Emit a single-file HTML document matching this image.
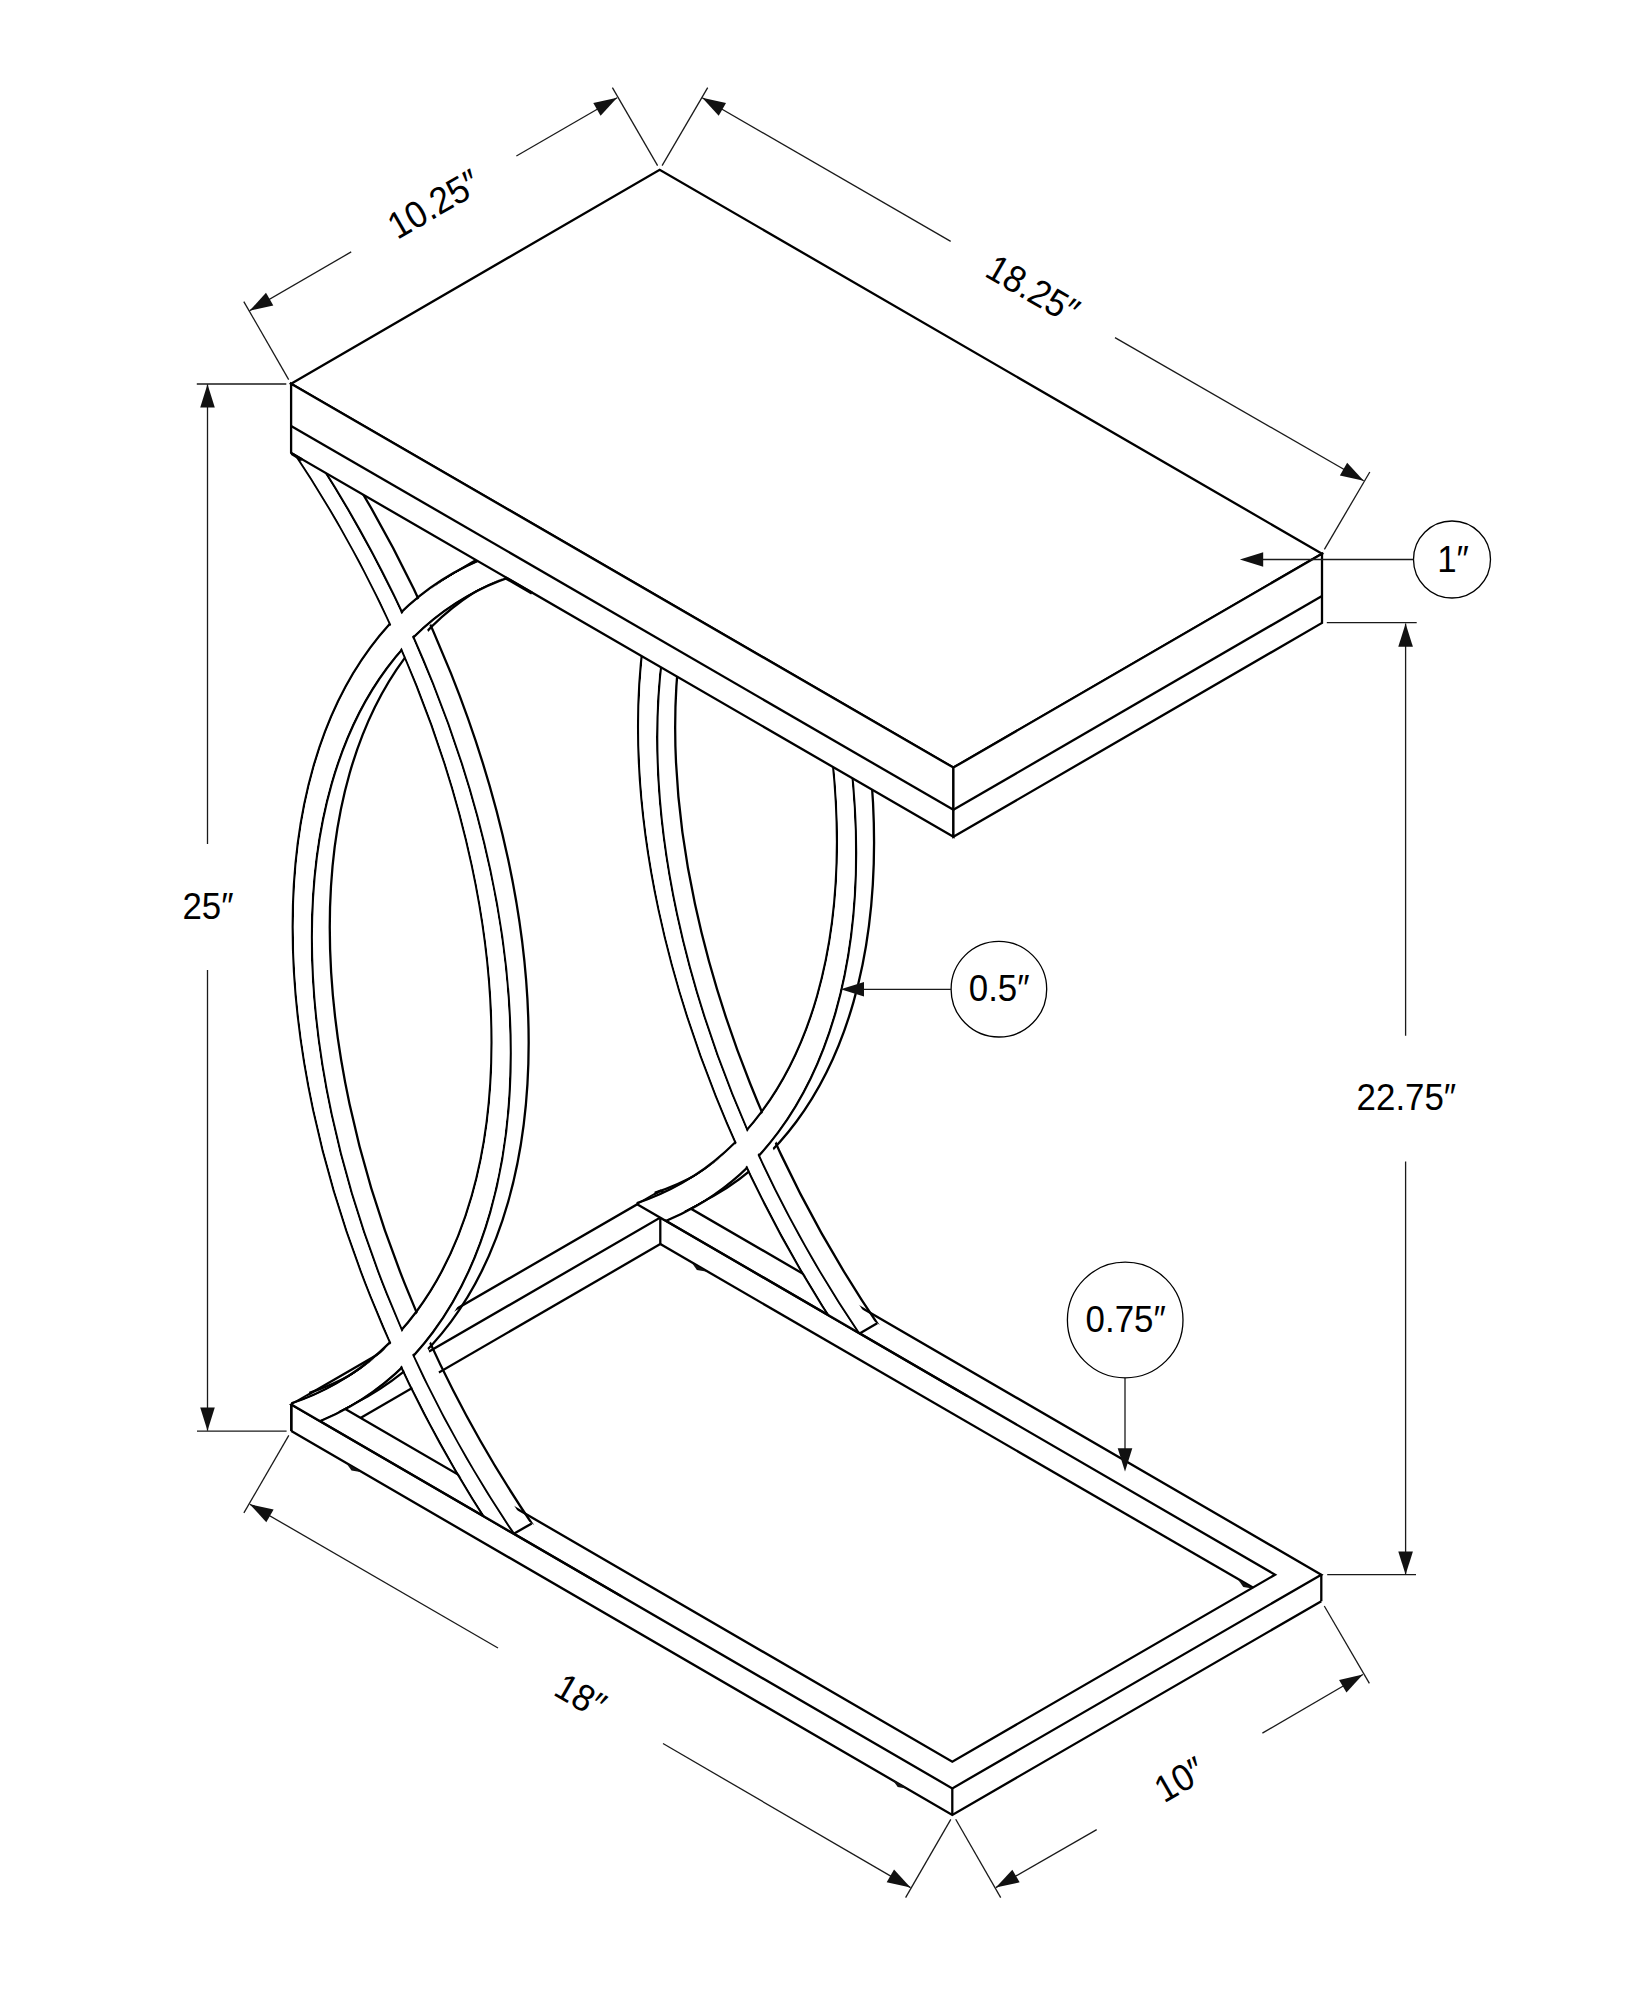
<!DOCTYPE html><html><head><meta charset="utf-8"><style>html,body{margin:0;padding:0;background:#fff}svg{display:block}</style></head><body>
<svg width="1647" height="2000" viewBox="0 0 1647 2000">
<style>line,path,circle,polygon{fill:none;stroke:#000;stroke-linecap:butt;stroke-linejoin:miter}.ah{fill:#111;stroke:none}.d{stroke:#1a1a1a}.wf{fill:#fff}.e{stroke-width:2.3}text{font-family:"Liberation Sans",sans-serif;fill:#000;stroke:none}</style>
<rect width="1647" height="2000" fill="#fff"/>
<defs>
<clipPath id="cf" clipPathUnits="userSpaceOnUse"><path d="M291.1,-500 L2000,-500 L2000,2396.73 L291.1,1404.48 Z"/></clipPath>
<g id="fe" clip-path="url(#cf)"><g transform="matrix(0.8653,0.5012,0,1,0,0)">
<path class="e" vector-effect="non-scaling-stroke" d="M282.3,241.53 A608.06,608.06 0 0 1 282.3,1272.85"/>
<path class="e" vector-effect="non-scaling-stroke" d="M293.97,222.85 A630.08,630.08 0 0 1 293.97,1291.53"/>
<path class="e" vector-effect="non-scaling-stroke" d="M646.12,1272.85 A608.06,608.06 0 0 1 646.12,241.53"/>
<path class="e" vector-effect="non-scaling-stroke" d="M634.45,1291.53 A630.08,630.08 0 0 1 634.45,222.85"/>
</g></g>
<g id="ff" clip-path="url(#cf)"><g transform="matrix(0.8653,0.5012,0,1,0,0)">
<path style="stroke:#fff;stroke-width:19.42" d="M288.14,232.19 A619.07,619.07 0 0 1 288.14,1282.19"/>
<path style="stroke:#fff;stroke-width:19.42" d="M640.28,1282.19 A619.07,619.07 0 0 1 640.28,232.19"/>
</g></g>
</defs>
<path d="M291.3,1404.6 L660.3,1190.9 L1321.3,1574.7 L952.3,1788.4 Z" stroke-width="2.3"/>
<path d="M291.3,1431.1 L952.3,1814.9 L1321.3,1601.2" stroke-width="2.3"/>
<line x1="291.3" y1="1404.6" x2="291.3" y2="1431.1" stroke-width="2.3"/>
<line x1="952.3" y1="1788.4" x2="952.3" y2="1814.9" stroke-width="2.3"/>
<line x1="1321.3" y1="1574.7" x2="1321.3" y2="1601.2" stroke-width="2.3"/>
<path d="M337.54,1404.6 L660.3,1217.6 L1275.06,1574.7 L952.3,1761.7 Z" stroke-width="2.3"/>
<line x1="660.3" y1="1217.6" x2="660.3" y2="1244.1" stroke-width="2.3"/>
<line x1="660.3" y1="1244.1" x2="360.47" y2="1417.91" stroke-width="2.3"/>
<line x1="660.3" y1="1244.1" x2="1252.82" y2="1587.58" stroke-width="2.3"/>
<g transform="translate(345.4,-200.1)">
<use href="#fe" transform="translate(18,-10.4)"/>
<use href="#ff" transform="translate(1.62,-0.94)"/>
<use href="#ff" transform="translate(3.24,-1.87)"/>
<use href="#ff" transform="translate(4.86,-2.81)"/>
<use href="#ff" transform="translate(6.48,-3.74)"/>
<use href="#ff" transform="translate(8.1,-4.68)"/>
<use href="#ff" transform="translate(9.72,-5.62)"/>
<use href="#ff" transform="translate(11.34,-6.55)"/>
<use href="#ff" transform="translate(12.96,-7.49)"/>
<use href="#ff" transform="translate(14.58,-8.42)"/>
<use href="#fe"/><use href="#ff"/>
</g>
<line x1="636.7" y1="1203.9" x2="967.68" y2="1396.15" stroke-width="2.3"/>
<g transform="translate(0,0)">
<use href="#fe" transform="translate(18,-10.4)"/>
<use href="#ff" transform="translate(1.62,-0.94)"/>
<use href="#ff" transform="translate(3.24,-1.87)"/>
<use href="#ff" transform="translate(4.86,-2.81)"/>
<use href="#ff" transform="translate(6.48,-3.74)"/>
<use href="#ff" transform="translate(8.1,-4.68)"/>
<use href="#ff" transform="translate(9.72,-5.62)"/>
<use href="#ff" transform="translate(11.34,-6.55)"/>
<use href="#ff" transform="translate(12.96,-7.49)"/>
<use href="#ff" transform="translate(14.58,-8.42)"/>
<use href="#fe"/><use href="#ff"/>
</g>
<line x1="291.3" y1="1404.6" x2="621.8" y2="1596.5" stroke-width="2.3"/>
<line x1="291.3" y1="1404.6" x2="291.3" y2="1431.1" stroke-width="2.3"/>
<line x1="513.79" y1="1533.79" x2="531.79" y2="1523.39" stroke-width="2.3"/>
<line x1="859.19" y1="1333.69" x2="877.19" y2="1323.29" stroke-width="2.3"/>
<path class="ah" d="M346.2,1463 L351.5,1470.5 L361.9,1472.3 Z"/>
<path class="ah" d="M691.6,1262.5 L696.9,1270 L707.3,1271.8 Z"/>
<path class="ah" d="M1238,1579.5 L1243.3,1587 L1253.7,1588.8 Z"/>
<path class="ah" d="M892.4,1779.5 L897.7,1787 L908.1,1788.8 Z"/>
<path class="wf" d="M291.1,383.7 L659.7,169.8 L1322,553.7 L953.4,767.6 Z" stroke-width="2.3"/>
<path class="wf" d="M291.1,383.7 L953.4,767.6 L953.4,836.8 L291.1,452.9 Z" stroke-width="2.3"/>
<path class="wf" d="M953.4,767.6 L1322,553.7 L1322,622.9 L953.4,836.8 Z" stroke-width="2.3"/>
<line x1="291.1" y1="425.9" x2="953.4" y2="809.8" stroke-width="2.3"/>
<line x1="953.4" y1="809.8" x2="1322" y2="595.9" stroke-width="2.3"/>
<line x1="505.5" y1="577.78" x2="532" y2="593.14" stroke-width="3.2"/>
<line x1="291.5" y1="453.5" x2="302" y2="459.82" stroke-width="3.2"/>
<line x1="657.6" y1="165.6" x2="612.4" y2="87.7" stroke-width="1.3" class="d"/>
<line x1="288.7" y1="379.6" x2="243.8" y2="301.6" stroke-width="1.3" class="d"/>
<line x1="249.5" y1="310.8" x2="351.2" y2="251.9" stroke-width="1.3" class="d"/>
<line x1="516.4" y1="156" x2="617.1" y2="97.7" stroke-width="1.3" class="d"/>
<path class="ah" d="M249.5,310.8 L266,292.81 L273.32,305.44 Z"/>
<path class="ah" d="M617.1,97.7 L600.59,115.69 L593.28,103.06 Z"/>
<line x1="662.1" y1="165.6" x2="707.7" y2="87.7" stroke-width="1.3" class="d"/>
<line x1="1324.4" y1="549.3" x2="1369.8" y2="472" stroke-width="1.3" class="d"/>
<line x1="702.2" y1="97.7" x2="950.7" y2="241.4" stroke-width="1.3" class="d"/>
<line x1="1115" y1="337.6" x2="1363.7" y2="480.8" stroke-width="1.3" class="d"/>
<path class="ah" d="M702.2,97.7 L726.02,103.04 L718.72,115.68 Z"/>
<path class="ah" d="M1363.7,480.8 L1339.87,475.5 L1347.15,462.85 Z"/>
<line x1="196.8" y1="384" x2="286.3" y2="384" stroke-width="1.3" class="d"/>
<line x1="197" y1="1431.1" x2="286.6" y2="1431.1" stroke-width="1.3" class="d"/>
<line x1="207.5" y1="384.2" x2="207.5" y2="844" stroke-width="1.3" class="d"/>
<line x1="207.5" y1="970" x2="207.5" y2="1430.7" stroke-width="1.3" class="d"/>
<path class="ah" d="M207.5,384.2 L214.8,407.5 L200.2,407.5 Z"/>
<path class="ah" d="M207.5,1430.7 L200.2,1407.4 L214.8,1407.4 Z"/>
<line x1="1326.8" y1="622.6" x2="1416.7" y2="622.6" stroke-width="1.3" class="d"/>
<line x1="1327.2" y1="1574.7" x2="1416" y2="1574.7" stroke-width="1.3" class="d"/>
<line x1="1405.6" y1="623.4" x2="1405.6" y2="1035.7" stroke-width="1.3" class="d"/>
<line x1="1405.6" y1="1161.5" x2="1405.6" y2="1574.7" stroke-width="1.3" class="d"/>
<path class="ah" d="M1405.6,623.4 L1412.9,646.7 L1398.3,646.7 Z"/>
<path class="ah" d="M1405.6,1574.7 L1398.3,1551.4 L1412.9,1551.4 Z"/>
<line x1="288.8" y1="1435.4" x2="243.9" y2="1512.9" stroke-width="1.3" class="d"/>
<line x1="950.8" y1="1819.3" x2="905.6" y2="1897.6" stroke-width="1.3" class="d"/>
<line x1="249.8" y1="1504.2" x2="498" y2="1648" stroke-width="1.3" class="d"/>
<line x1="663" y1="1743.5" x2="910.5" y2="1887.6" stroke-width="1.3" class="d"/>
<path class="ah" d="M249.8,1504.2 L273.62,1509.56 L266.3,1522.2 Z"/>
<path class="ah" d="M910.5,1887.6 L886.69,1882.19 L894.04,1869.57 Z"/>
<line x1="955.7" y1="1819.3" x2="1000.7" y2="1897.6" stroke-width="1.3" class="d"/>
<line x1="1324.3" y1="1606" x2="1369.4" y2="1683.3" stroke-width="1.3" class="d"/>
<line x1="995.8" y1="1887.6" x2="1096.7" y2="1829.6" stroke-width="1.3" class="d"/>
<line x1="1262.4" y1="1733.1" x2="1362.9" y2="1674.5" stroke-width="1.3" class="d"/>
<path class="ah" d="M995.8,1887.6 L1012.36,1869.66 L1019.64,1882.32 Z"/>
<path class="ah" d="M1362.9,1674.5 L1346.45,1692.54 L1339.09,1679.93 Z"/>
<circle cx="1452" cy="559.5" r="38.5" stroke-width="1.3"/>
<line x1="1413.5" y1="559.5" x2="1250" y2="559.5" stroke-width="1.3" class="d"/>
<path class="ah" d="M1239.9,559.5 L1263.2,552.2 L1263.2,566.8 Z"/>
<circle cx="998.9" cy="989.2" r="47.8" stroke-width="1.3"/>
<line x1="951.1" y1="989.3" x2="850" y2="989.3" stroke-width="1.3" class="d"/>
<path class="ah" d="M840.7,989.3 L864,982 L864,996.6 Z"/>
<circle cx="1125.2" cy="1320" r="57.8" stroke-width="1.3"/>
<line x1="1125" y1="1377.8" x2="1125" y2="1460" stroke-width="1.3" class="d"/>
<path class="ah" d="M1125,1471.6 L1117.7,1448.3 L1132.3,1448.3 Z"/>
<g transform="translate(433.8,204) rotate(-30) scale(0.93,1)"><text x="0" y="0" text-anchor="middle" dominant-baseline="central" font-size="37.5">10.25″</text></g>
<g transform="translate(1032.9,289.2) rotate(30) scale(0.93,1)"><text x="0" y="0" text-anchor="middle" dominant-baseline="central" font-size="37.5">18.25″</text></g>
<g transform="translate(208,906) rotate(0) scale(0.93,1)"><text x="0" y="0" text-anchor="middle" dominant-baseline="central" font-size="37.5">25″</text></g>
<g transform="translate(1406.4,1097.2) rotate(0) scale(0.93,1)"><text x="0" y="0" text-anchor="middle" dominant-baseline="central" font-size="37.5">22.75″</text></g>
<g transform="translate(580.5,1695.8) rotate(30) scale(0.93,1)"><text x="0" y="0" text-anchor="middle" dominant-baseline="central" font-size="37.5">18″</text></g>
<g transform="translate(1179.6,1779.4) rotate(-30) scale(0.93,1)"><text x="0" y="0" text-anchor="middle" dominant-baseline="central" font-size="37.5">10″</text></g>
<g transform="translate(1453,559) rotate(0) scale(0.93,1)"><text x="0" y="0" text-anchor="middle" dominant-baseline="central" font-size="37.5">1″</text></g>
<g transform="translate(999.2,988.2) rotate(0) scale(0.93,1)"><text x="0" y="0" text-anchor="middle" dominant-baseline="central" font-size="37.5">0.5″</text></g>
<g transform="translate(1125.7,1318.8) rotate(0) scale(0.93,1)"><text x="0" y="0" text-anchor="middle" dominant-baseline="central" font-size="37.5">0.75″</text></g>
</svg></body></html>
